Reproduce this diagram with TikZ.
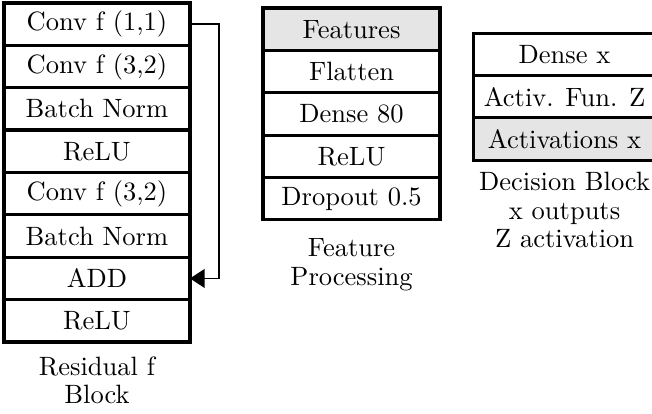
\documentclass[tikz,border=0pt]{standalone}
\usetikzlibrary{positioning,arrows.meta}

\tikzset{
  layer/.style={draw, line width=1.2pt, minimum height=16pt, inner sep=0pt, outer sep=0pt},
  io/.style={fill=gray!20},
  caption/.style={align=center, font=\linespread{0.9}\selectfont},
}

\begin{document}
\begin{tikzpicture}
  \useasboundingbox (0,0) rectangle (246.1pt,-155.9pt);
  % residual block
  \begin{scope}[every node/.style={layer, minimum width=70.2pt}]
    \node (conv1) at (36.6pt,-9.1pt) {Conv f (1,1)};
    \node (conv2) [below=0pt of conv1] {Conv f (3,2)};
    \node (bn1)   [below=0pt of conv2] {Batch Norm};
    \node (relu1) [below=0pt of bn1]   {ReLU};
    \node (conv3) [below=0pt of relu1] {Conv f (3,2)};
    \node (bn2)   [below=0pt of conv3] {Batch Norm};
    \node (add)   [below=0pt of bn2]   {ADD};
    \node (relu2) [below=0pt of add]   {ReLU};
  \end{scope}
  \draw[line width=0.7pt, -{Triangle[length=5.5pt,width=7pt]}]
    (conv1.east) -- ++(10.9pt,0) |- (add.east);
  \node[caption, below=2pt of relu2] (reslbl) {Residual f\\Block};

  % feature processing
  \begin{scope}[every node/.style={layer, minimum width=66.8pt}]
    \node[io] (feat)  at (132.7pt,-11pt) {Features};
    \node (flat)  [below=0pt of feat]  {Flatten};
    \node (dense) [below=0pt of flat]  {Dense 80};
    \node (relu3) [below=0pt of dense] {ReLU};
    \node (drop)  [below=0pt of relu3] {Dropout 0.5};
  \end{scope}
  \node[caption, below=3.5pt of drop] (featlbl) {Feature\\Processing};

  % decision block
  \begin{scope}[every node/.style={layer, minimum width=69pt}]
    \node (densex) at (213.1pt,-20.5pt) {Dense x};
    \node (activ) [below=0pt of densex] {Activ. Fun. Z};
    \node[io] (outs) [below=0pt of activ] {Activations x};
  \end{scope}
  \node[caption, below=1pt of outs] (declbl) {Decision Block\\x outputs\\Z activation};
\end{tikzpicture}
\end{document}
